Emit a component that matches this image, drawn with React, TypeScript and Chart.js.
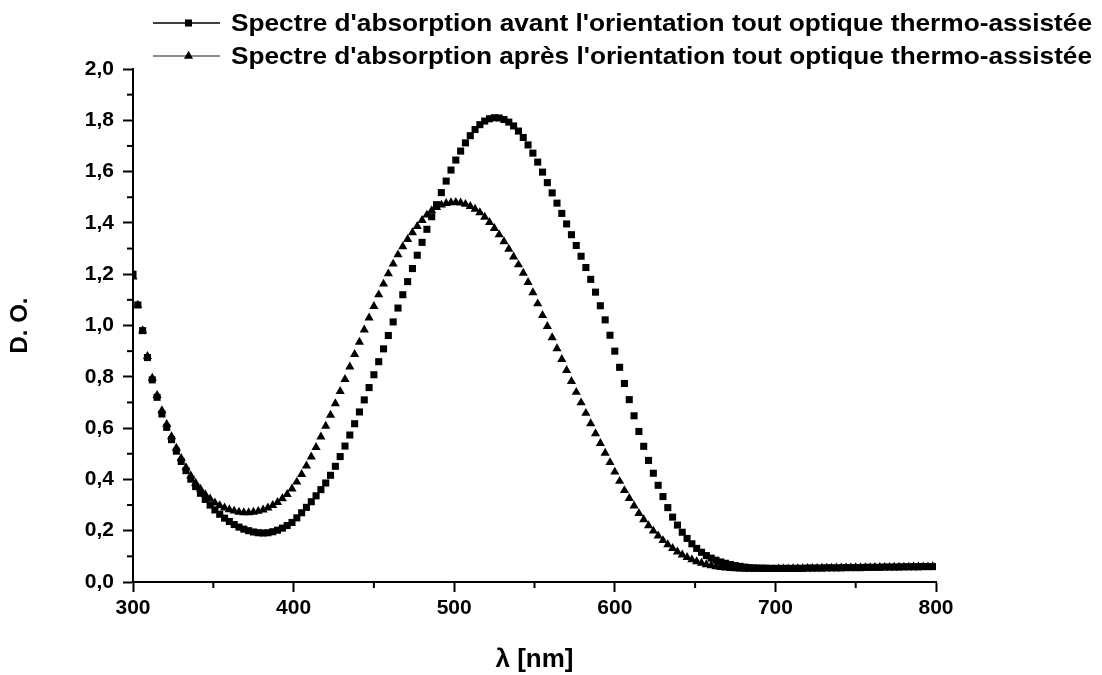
import React, { useEffect, useRef } from 'react';
import { Chart, registerables } from 'chart.js';

Chart.register(...registerables);

// Wavelengths (nm)
const wavelengths = [
  300, 303, 306, 309, 312, 315, 318, 321, 324, 327,
  330, 333, 336, 339, 342, 345, 348, 351, 354, 357,
  360, 363, 366, 369, 372, 375, 378, 381, 384, 387,
  390, 393, 396, 399, 402, 405, 408, 411, 414, 417,
  420, 423, 426, 429, 432, 435, 438, 441, 444, 447,
  450, 453, 456, 459, 462, 465, 468, 471, 474, 477,
  480, 483, 486, 489, 492, 495, 498, 501, 504, 507,
  510, 513, 516, 519, 522, 525, 528, 531, 534, 537,
  540, 543, 546, 549, 552, 555, 558, 561, 564, 567,
  570, 573, 576, 579, 582, 585, 588, 591, 594, 597,
  600, 603, 606, 609, 612, 615, 618, 621, 624, 627,
  630, 633, 636, 639, 642, 645, 648, 651, 654, 657,
  660, 663, 666, 669, 672, 675, 678, 681, 684, 687,
  690, 693, 696, 699, 702, 705, 708, 711, 714, 717,
  720, 723, 726, 729, 732, 735, 738, 741, 744, 747,
  750, 753, 756, 759, 762, 765, 768, 771, 774, 777,
  780, 783, 786, 789, 792, 795, 798,
];

// Optical density before orientation (squares)
const odAvant = [
  1.20, 1.08, 0.98, 0.875, 0.788, 0.72, 0.655, 0.603, 0.555, 0.51,
  0.47, 0.434, 0.401, 0.372, 0.346, 0.322, 0.30, 0.281, 0.264, 0.249,
  0.236, 0.224, 0.214, 0.206, 0.20, 0.195, 0.192, 0.191, 0.192, 0.196,
  0.202, 0.21, 0.22, 0.232, 0.25, 0.27, 0.291, 0.313, 0.336, 0.36,
  0.386, 0.416, 0.451, 0.489, 0.53, 0.573, 0.617, 0.663, 0.71, 0.758,
  0.808, 0.859, 0.909, 0.961, 1.014, 1.068, 1.12, 1.171, 1.222, 1.274,
  1.324, 1.375, 1.424, 1.471, 1.518, 1.563, 1.606, 1.645, 1.68, 1.712,
  1.74, 1.764, 1.783, 1.797, 1.806, 1.81, 1.809, 1.803, 1.793, 1.778,
  1.758, 1.733, 1.704, 1.672, 1.637, 1.598, 1.557, 1.517, 1.477, 1.437,
  1.396, 1.354, 1.312, 1.27, 1.226, 1.18, 1.13, 1.077, 1.022, 0.962,
  0.90, 0.837, 0.774, 0.711, 0.648, 0.587, 0.529, 0.474, 0.424, 0.377,
  0.333, 0.29, 0.253, 0.222, 0.194, 0.17, 0.149, 0.131, 0.116, 0.103,
  0.093, 0.085, 0.078, 0.073, 0.068, 0.064, 0.061, 0.058, 0.056, 0.055,
  0.054, 0.054, 0.053, 0.053, 0.053, 0.053, 0.053, 0.053, 0.053, 0.053,
  0.054, 0.054, 0.054, 0.054, 0.055, 0.055, 0.055, 0.055, 0.056, 0.056,
  0.056, 0.056, 0.057, 0.057, 0.057, 0.057, 0.058, 0.058, 0.058, 0.058,
  0.059, 0.059, 0.059, 0.059, 0.06, 0.06, 0.06,
];

// Optical density after orientation (triangles)
const odApres = [
  1.19, 1.08, 0.98, 0.88, 0.795, 0.728, 0.668, 0.615, 0.567, 0.522,
  0.482, 0.446, 0.414, 0.386, 0.362, 0.341, 0.324, 0.309, 0.298, 0.289,
  0.282, 0.277, 0.273, 0.271, 0.271, 0.273, 0.276, 0.281, 0.289, 0.299,
  0.311, 0.325, 0.342, 0.363, 0.39, 0.42, 0.453, 0.488, 0.525, 0.566,
  0.608, 0.651, 0.696, 0.743, 0.79, 0.839, 0.888, 0.935, 0.983, 1.03,
  1.075, 1.12, 1.162, 1.202, 1.24, 1.276, 1.308, 1.336, 1.362, 1.387,
  1.41, 1.431, 1.448, 1.461, 1.47, 1.476, 1.479, 1.48, 1.478, 1.473,
  1.465, 1.454, 1.44, 1.423, 1.402, 1.379, 1.354, 1.327, 1.298, 1.268,
  1.237, 1.204, 1.168, 1.128, 1.085, 1.04, 0.997, 0.953, 0.91, 0.868,
  0.825, 0.782, 0.74, 0.699, 0.658, 0.618, 0.579, 0.541, 0.503, 0.466,
  0.429, 0.393, 0.357, 0.326, 0.297, 0.268, 0.243, 0.22, 0.199, 0.18,
  0.162, 0.146, 0.131, 0.118, 0.106, 0.096, 0.087, 0.08, 0.074, 0.068,
  0.064, 0.06, 0.057, 0.055, 0.053, 0.052, 0.051, 0.05, 0.05, 0.05,
  0.05, 0.05, 0.05, 0.05, 0.051, 0.051, 0.051, 0.052, 0.052, 0.052,
  0.053, 0.053, 0.053, 0.054, 0.054, 0.054, 0.055, 0.055, 0.055, 0.055,
  0.056, 0.056, 0.056, 0.056, 0.057, 0.057, 0.057, 0.057, 0.058, 0.058,
  0.058, 0.058, 0.059, 0.059, 0.059, 0.059, 0.06,
];

const seriesLabels = [
  "Spectre d'absorption avant l'orientation tout optique thermo-assistée",
  "Spectre d'absorption après l'orientation tout optique thermo-assistée",
];
const xAxisTitle = 'λ [nm]';
const yAxisTitle = 'D. O.';

const FONT = '"Liberation Sans", Arial, Helvetica, sans-serif';

const minorTicksPlugin = {
  id: 'minorTicks',
  afterDraw(chart: any) {
    const { ctx, chartArea } = chart;
    const x = chart.scales.x;
    const y = chart.scales.y;
    ctx.save();
    ctx.strokeStyle = '#000';
    ctx.lineWidth = 2;
    x.ticks.forEach((t: any) => {
      if (Math.round(t.value) % 100 !== 0) {
        const px = x.getPixelForValue(t.value);
        ctx.beginPath();
        ctx.moveTo(px, chartArea.bottom);
        ctx.lineTo(px, chartArea.bottom + 6);
        ctx.stroke();
      }
    });
    y.ticks.forEach((t: any) => {
      if (Math.round(t.value * 10) % 2 !== 0) {
        const py = y.getPixelForValue(t.value);
        ctx.beginPath();
        ctx.moveTo(chartArea.left - 6, py);
        ctx.lineTo(chartArea.left, py);
        ctx.stroke();
      }
    });
    ctx.restore();
  },
};

const originLegendPlugin = {
  id: 'originLegend',
  afterDraw(chart: any, _args: any, opts: any) {
    const { ctx } = chart;
    ctx.save();
    chart.data.datasets.forEach((ds: any, i: number) => {
      const yy = opts.top + i * opts.rowGap;
      ctx.strokeStyle = ds.legendLineColor;
      ctx.lineWidth = 1.6;
      ctx.beginPath();
      ctx.moveTo(opts.lineStart, yy);
      ctx.lineTo(opts.lineEnd, yy);
      ctx.stroke();
      const cx = (opts.lineStart + opts.lineEnd) / 2 + 2;
      ctx.fillStyle = '#000';
      const r = ds.pointRadius;
      if (ds.pointStyle === 'rect') {
        const s = Math.SQRT1_2 * r;
        ctx.fillRect(cx - s, yy - s, 2 * s, 2 * s);
      } else {
        ctx.beginPath();
        ctx.moveTo(cx, yy - r);
        ctx.lineTo(cx + r * Math.sin((2 * Math.PI) / 3), yy + r / 2);
        ctx.lineTo(cx - r * Math.sin((2 * Math.PI) / 3), yy + r / 2);
        ctx.closePath();
        ctx.fill();
      }
      ctx.font = `bold ${opts.fontSize}px ${FONT}`;
      ctx.textBaseline = 'middle';
      ctx.textAlign = 'left';
      const w = ctx.measureText(ds.label).width;
      const sx = (opts.textEnd - opts.textX) / w;
      ctx.save();
      ctx.translate(opts.textX, yy + 1);
      ctx.scale(sx, 1);
      ctx.fillText(ds.label, 0, 0);
      ctx.restore();
    });
    ctx.restore();
  },
};

export default function App() {
  const canvasRef = useRef<HTMLCanvasElement | null>(null);

  useEffect(() => {
    const canvas = canvasRef.current;
    if (!canvas) return;
    const toPoints = (vals: number[]) => wavelengths.map((w, i) => ({ x: w, y: vals[i] }));
    const chart = new Chart(canvas, {
      type: 'scatter',
      data: {
        datasets: [
          {
            label: seriesLabels[0],
            data: toPoints(odAvant),
            pointStyle: 'rect',
            pointRadius: 5,
            pointHoverRadius: 5,
            borderWidth: 0,
            backgroundColor: '#000',
            borderColor: '#000',
            showLine: false,
            legendLineColor: '#000',
          } as any,
          {
            label: seriesLabels[1],
            data: toPoints(odApres),
            pointStyle: 'triangle',
            pointRadius: 5.3,
            pointHoverRadius: 5.3,
            borderWidth: 0,
            backgroundColor: '#000',
            borderColor: '#000',
            showLine: false,
            legendLineColor: '#666',
          } as any,
        ],
      },
      options: {
        responsive: false,
        animation: false,
        events: [],
        layout: { padding: { top: 69, right: 166, left: 0, bottom: 0 } },
        plugins: {
          legend: { display: false },
          tooltip: { enabled: false },
          originLegend: { top: 23, rowGap: 33, lineStart: 153, lineEnd: 220, textX: 231, textEnd: 1092, fontSize: 24 },
        } as any,
        scales: {
          x: {
            type: 'linear',
            min: 300,
            max: 800,
            afterFit: (s: any) => {
              s.height = 93;
              s.paddingLeft = 0;
              s.paddingRight = 0;
            },
            border: { display: true, color: '#000', width: 2 },
            grid: {
              display: true,
              drawOnChartArea: false,
              drawTicks: true,
              tickLength: 10,
              tickWidth: 2,
              tickColor: (c: any) => (c.tick && Math.round(c.tick.value) % 100 === 0 ? '#000' : 'rgba(0,0,0,0)'),
            },
            ticks: {
              stepSize: 50,
              autoSkip: false,
              maxRotation: 0,
              padding: 4,
              color: '#000',
              font: { family: FONT, size: 21, weight: 'bold' },
              callback: (v: any) => (Math.round(Number(v)) % 100 === 0 ? String(Math.round(Number(v))) : ''),
            },
            title: {
              display: true,
              text: xAxisTitle,
              color: '#000',
              font: { family: FONT, size: 26, weight: 'bold' },
              padding: { top: 0, bottom: 0 },
            },
          },
          y: {
            type: 'linear',
            min: 0,
            max: 2,
            afterFit: (s: any) => {
              s.width = 133;
              s.paddingTop = 0;
              s.paddingBottom = 0;
            },
            border: { display: true, color: '#000', width: 2 },
            grid: {
              display: true,
              drawOnChartArea: false,
              drawTicks: true,
              tickLength: 10,
              tickWidth: 2,
              tickColor: (c: any) => (c.tick && Math.round(c.tick.value * 10) % 2 === 0 ? '#000' : 'rgba(0,0,0,0)'),
            },
            ticks: {
              stepSize: 0.1,
              autoSkip: false,
              padding: 9,
              color: '#000',
              font: { family: FONT, size: 21, weight: 'bold' },
              callback: (v: any) => {
                const n = Math.round(Number(v) * 10);
                return n % 2 === 0 ? (n / 10).toFixed(1).replace('.', ',') : '';
              },
            },
            title: {
              display: true,
              text: yAxisTitle,
              color: '#000',
              font: { family: FONT, size: 24, weight: 'bold' },
              padding: { top: 6, bottom: 0 },
            },
          },
        },
      },
      plugins: [minorTicksPlugin, originLegendPlugin],
    });
    return () => chart.destroy();
  }, []);

  return (
    <div style={{ position: 'fixed', left: 0, top: 0, width: 1102, height: 675, background: '#fff' }}>
      <canvas ref={canvasRef} width={1102} height={675} style={{ display: 'block' }} />
    </div>
  );
}
